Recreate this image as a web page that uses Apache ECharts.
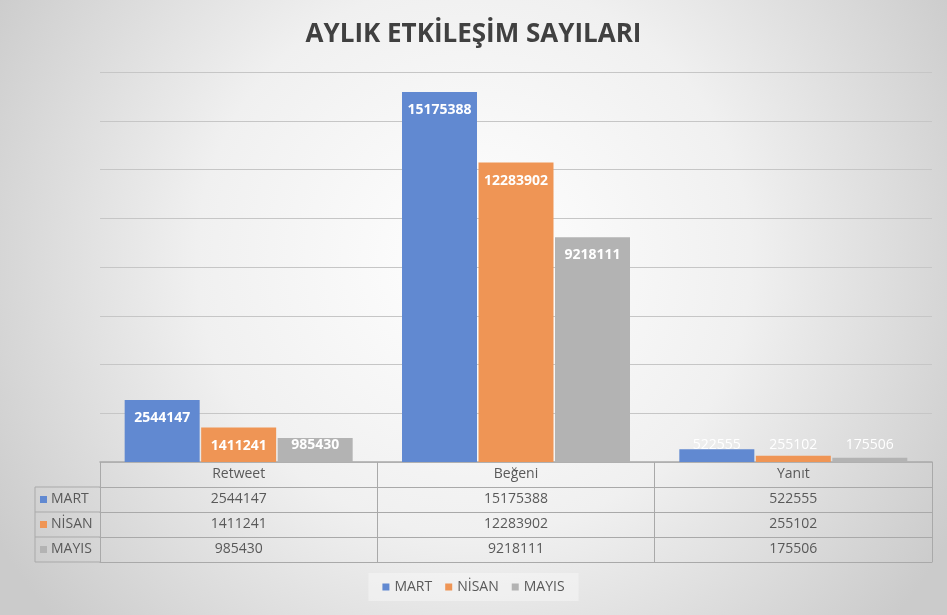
<!DOCTYPE html>
<html>
<head>
<meta charset="utf-8">
<script src="https://cdn.jsdelivr.net/npm/echarts@6/dist/echarts.min.js"></script>
<style>html,body{margin:0;padding:0;}#c{width:947px;height:615px;}</style>
</head>
<body>
<div id="c"></div>
<script>
const categories = ['Retweet', 'Beğeni', 'Yanıt'];
const seriesNames = ['MART', 'NİSAN', 'MAYIS'];
const mart = [2544147, 15175388, 522555];
const nisan = [1411241, 12283902, 255102];
const mayis = [985430, 9218111, 175506];
const colors = ['#6189d1', '#ef9555', '#b3b3b3'];
const yMin = 0, yMax = 16000000, yInterval = 2000000;

const values = [mart, nisan, mayis];
const G = { left: 100, right: 15, top: 72, bottom: 153 };
const ROW = 25;
const textColor = '#595959';
const lineColor = '#a9a9a9';
const FONT = "'Open Sans', sans-serif";

const chart = echarts.init(document.getElementById('c'));

function makeData(arr) {
  return arr.map(v => ({
    value: v,
    label: v < 1200000
      ? { position: 'insideBottom', distance: 10, fontWeight: v < 900000 ? 'normal' : 'bold' }
      : { position: 'insideTop', distance: 11 }
  }));
}

const xAxes = [];
for (let r = 0; r <= 4; r++) {
  xAxes.push({
    type: 'category',
    data: categories,
    position: 'bottom',
    offset: r * ROW,
    axisLine: { show: true, lineStyle: { color: lineColor, width: r === 0 ? 1.5 : 1 } },
    axisTick: { show: r < 4, interval: 0, length: ROW, lineStyle: { color: lineColor } },
    axisLabel: {
      show: r < 4,
      interval: 0,
      margin: 5,
      color: textColor,
      fontFamily: FONT,
      fontSize: 14,
      formatter: (v, i) => r === 0 ? v : String(values[r - 1][i])
    },
    splitLine: { show: false }
  });
}

const graphics = [];
const chartH = 615;
const tableTop = chartH - G.bottom;
const leftX = 35;
graphics.push({ type: 'line', shape: { x1: leftX, y1: tableTop + ROW, x2: leftX, y2: tableTop + 4 * ROW }, style: { stroke: lineColor, lineWidth: 1 } });
for (let r = 1; r <= 4; r++) {
  graphics.push({ type: 'line', shape: { x1: leftX, y1: tableTop + r * ROW, x2: G.left, y2: tableTop + r * ROW }, style: { stroke: lineColor, lineWidth: 1 } });
}
seriesNames.forEach((n, i) => {
  const cy = tableTop + (i + 1) * ROW + ROW / 2;
  graphics.push({ type: 'rect', shape: { x: leftX + 5, y: cy - 3.5, width: 7, height: 7 }, style: { fill: colors[i] } });
  graphics.push({ type: 'text', x: leftX + 16, y: cy, style: { text: n, fill: textColor, font: "14px 'Open Sans', sans-serif", textVerticalAlign: 'middle', verticalAlign: 'middle' } });
});

chart.setOption({
  backgroundColor: {
    type: 'radial', x: 0.5, y: 0.42, r: 0.9,
    colorStops: [{ offset: 0, color: '#ffffff' }, { offset: 0.5, color: '#f0f0f0' }, { offset: 1, color: '#cbcbcb' }]
  },
  title: {
    text: 'AYLIK ETKİLEŞİM SAYILARI',
    left: 'center',
    top: 17,
    textStyle: { fontFamily: FONT, fontWeight: 'bold', fontSize: 26, color: '#404040' }
  },
  legend: {
    bottom: 14,
    left: 'center',
    icon: 'rect',
    itemWidth: 7,
    itemHeight: 7,
    itemGap: 13,
    padding: [7, 14],
    backgroundColor: 'rgba(255,255,255,0.35)',
    textStyle: { color: textColor, fontFamily: FONT, fontSize: 14 },
    data: seriesNames
  },
  grid: G,
  xAxis: xAxes,
  yAxis: {
    type: 'value', min: yMin, max: yMax, interval: yInterval,
    axisLabel: { show: false }, axisLine: { show: false }, axisTick: { show: false },
    splitLine: { lineStyle: { color: '#c6c6c6', width: 1 } }
  },
  series: seriesNames.map((n, i) => ({
    name: n,
    type: 'bar',
    xAxisIndex: 0,
    barWidth: 75,
    barGap: '2%',
    itemStyle: { color: colors[i] },
    label: {
      show: true,
      color: '#ffffff',
      fontFamily: FONT,
      fontWeight: 'bold',
      fontSize: 14
    },
    data: makeData(values[i])
  })),
  graphic: graphics
});
</script>
</body>
</html>
